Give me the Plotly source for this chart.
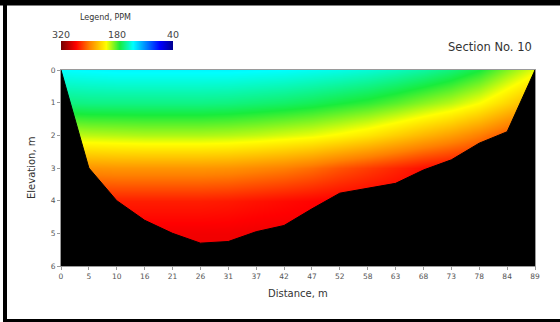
import plotly.graph_objects as go

# ---- data ----
distance_labels = ["0", "5", "10", "16", "21", "26", "31", "37", "42", "47",
                   "52", "58", "63", "68", "73", "78", "84", "89"]
station_pos = list(range(len(distance_labels)))
bottom_depth = [0.0, 3.0, 4.0, 4.6, 5.0, 5.3, 5.25, 4.95, 4.76, 4.25,
                3.77, 3.62, 3.47, 3.06, 2.75, 2.24, 1.89, 0.0]
grid_depths = [0, 1, 2, 3, 4, 5, 6]
# concentration (PPM) per depth row and station column
ppm_d0 = [141, 140, 139, 139, 139, 139, 139, 140, 141, 143, 145, 148, 152, 157, 164, 174, 190, 205]
ppm_d1 = [163, 162, 162, 162, 162, 162, 163, 165, 167, 170, 174, 178, 184, 191, 198, 208, 222, 236]
ppm_d2 = [200, 198, 197, 196, 196, 196, 197, 199, 202, 205, 210, 216, 224, 232, 240, 250, 262, 272]
ppm_d3 = [245, 244, 243, 243, 243, 243, 244, 247, 250, 255, 262, 268, 274, 280, 284, 286, 288, 288]
ppm_d4 = [278, 277, 276, 276, 276, 276, 277, 279, 281, 283, 285, 286, 287, 288, 288, 288, 288, 288]
ppm_d5 = [288, 287, 287, 287, 287, 287, 287, 288, 288, 288, 288, 288, 288, 288, 288, 288, 288, 288]
ppm_d6 = [290, 290, 290, 290, 290, 290, 290, 290, 290, 290, 290, 290, 290, 290, 290, 290, 290, 290]
legend_ticks = [320, 180, 40]
depth_ticks = [0, 1, 2, 3, 4, 5, 6]
max_depth = 6
ppm_min, ppm_max = 40, 320

W, H = 560, 322
PX0, PX1, PY0, PY1 = 61, 535, 70, 266   # plot area in pixels

def fx(px):
    return px / W

def fy(py):
    return 1 - py / H

colorscale = [
    [0.0, "#00008a"],
    [0.12, "#0000ff"],
    [0.36, "#00ffff"],
    [0.48, "#18ec3c"],
    [0.6, "#ffff00"],
    [0.75, "#ff8000"],
    [0.87, "#ff0000"],
    [1.0, "#7a0000"],
]

z = [ppm_d0, ppm_d1, ppm_d2, ppm_d3, ppm_d4, ppm_d5, ppm_d6]

fig = go.Figure()
fig.add_trace(go.Heatmap(
    x=station_pos, y=grid_depths, z=z, zsmooth="best",
    colorscale=colorscale, zmin=ppm_min, zmax=ppm_max, showscale=False,
    hoverinfo="skip", xaxis="x", yaxis="y"))

fig.add_trace(go.Scatter(
    x=station_pos + station_pos[::-1],
    y=bottom_depth + [max_depth] * len(station_pos),
    fill="toself", fillcolor="black", mode="lines",
    line=dict(color="black", width=1), hoverinfo="skip",
    showlegend=False, xaxis="x", yaxis="y"))

# legend bar
fig.add_trace(go.Heatmap(
    x=[ppm_min, ppm_max], y=[0], z=[[ppm_min, ppm_max]], zsmooth="best",
    colorscale=colorscale, zmin=ppm_min, zmax=ppm_max, showscale=False,
    hoverinfo="skip", xaxis="x2", yaxis="y2"))

tick_font = dict(family="DejaVu Sans, Verdana, sans-serif", size=7.5, color="#555555")
title_font = dict(family="DejaVu Sans, Verdana, sans-serif", size=10, color="#333333")

fig.update_layout(
    width=W, height=H,
    margin=dict(l=0, r=0, t=0, b=0, autoexpand=False),
    paper_bgcolor="white", plot_bgcolor="white",
    showlegend=False,
    xaxis=dict(domain=[fx(PX0), fx(PX1)], range=[0, len(station_pos) - 1],
               tickvals=station_pos, ticktext=distance_labels, automargin=False,
               showline=True, linecolor="#9a9a9a", linewidth=1, mirror=True,
               ticks="outside", ticklen=3, tickcolor="#9a9a9a",
               showgrid=False, zeroline=False, tickfont=tick_font),
    yaxis=dict(domain=[fy(PY1), fy(PY0)], range=[max_depth, 0],
               tickvals=depth_ticks, automargin=False,
               showline=True, linecolor="#9a9a9a", linewidth=1, mirror=True,
               ticks="outside", ticklen=3, tickcolor="#9a9a9a",
               showgrid=False, zeroline=False, tickfont=tick_font),
    xaxis2=dict(domain=[fx(61), fx(173)], range=[ppm_max, ppm_min], anchor="y2",
                side="top", tickvals=legend_ticks, ticks="", showline=False,
                showgrid=False, zeroline=False, automargin=False,
                tickfont=dict(family="DejaVu Sans, Verdana, sans-serif", size=9.5, color="#444444")),
    yaxis2=dict(domain=[fy(50), fy(41)], anchor="x2", range=[-0.5, 0.5], automargin=False,
                showticklabels=False, showgrid=False, zeroline=False, showline=False),
)

annotations = [
    dict(text="Legend, PPM", x=fx(105), y=fy(17), xref="paper", yref="paper",
         showarrow=False, xanchor="center", yanchor="middle",
         font=dict(family="DejaVu Sans, Verdana, sans-serif", size=8, color="#333333")),
    dict(text="Section No. 10", x=fx(534), y=fy(47), xref="paper", yref="paper",
         showarrow=False, xanchor="right", yanchor="middle",
         font=dict(family="DejaVu Sans, Tahoma, sans-serif", size=11.5, color="#333333")),
    dict(text="Distance, m", x=fx(298), y=fy(293), xref="paper", yref="paper",
         showarrow=False, xanchor="center", yanchor="middle", font=title_font),
    dict(text="Elevation, m", x=fx(31), y=fy(168), xref="paper", yref="paper",
         showarrow=False, xanchor="center", yanchor="middle", textangle=-90,
         font=title_font),
]
fig.update_layout(annotations=annotations)

# outer black frame
shapes = [
    dict(type="rect", xref="paper", yref="paper", x0=0, x1=1, y0=fy(5.5), y1=1,
         fillcolor="black", line=dict(width=0), layer="above"),
    dict(type="rect", xref="paper", yref="paper", x0=fx(3), x1=fx(7), y0=0, y1=1,
         fillcolor="black", line=dict(width=0), layer="above"),
    dict(type="rect", xref="paper", yref="paper", x0=fx(3), x1=1, y0=0, y1=fy(319),
         fillcolor="black", line=dict(width=0), layer="above"),
]
fig.update_layout(shapes=shapes)

fig.write_html(
    "out.html",
    post_script="document.body.style.margin='0';document.body.style.overflow='hidden';",
    config={"displayModeBar": False},
)
